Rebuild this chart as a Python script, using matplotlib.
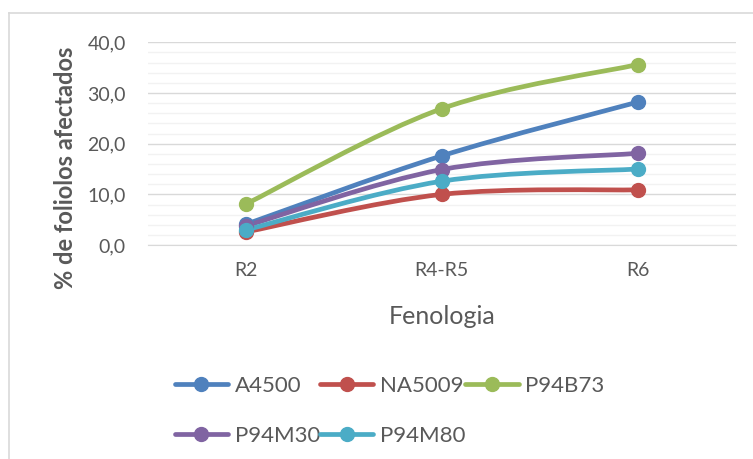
import numpy as np
import matplotlib.pyplot as plt
from matplotlib.path import Path
from matplotlib.patches import PathPatch
from matplotlib.lines import Line2D

plt.rcParams['font.family'] = ['Lato', 'DejaVu Sans']

stages = ['R2', 'R4-R5', 'R6']
a4500 = [4.1, 17.6, 28.2]
na5009 = [2.6, 10.0, 10.9]
p94b73 = [8.1, 26.9, 35.6]
p94m30 = [3.8, 14.9, 18.1]
p94m80 = [3.0, 12.6, 15.0]

series = [('A4500', a4500, '#4F81BD'),
          ('NA5009', na5009, '#C0504D'),
          ('P94B73', p94b73, '#9BBB59'),
          ('P94M30', p94m30, '#8064A2'),
          ('P94M80', p94m80, '#4BACC6')]


def smooth_path(xs, ys):
    # Excel-like smoothed line: cubic bezier segments through the points
    pts = np.column_stack([xs, ys]).astype(float)
    n = len(pts)
    verts = [pts[0]]
    codes = [Path.MOVETO]
    for i in range(n - 1):
        p0 = pts[max(i - 1, 0)]
        p1 = pts[i]
        p2 = pts[i + 1]
        p3 = pts[min(i + 2, n - 1)]
        c1 = p1 + (p2 - p0) / 6.0
        c2 = p2 - (p3 - p1) / 6.0
        verts += [c1, c2, p2]
        codes += [Path.CURVE4] * 3
    return Path(verts, codes)


fig = plt.figure(figsize=(7.53, 4.59), dpi=100)
# chart frame (only top and left edges are visible in the crop)
fig.add_artist(Line2D([0.012, 1.0], [0.972, 0.972], transform=fig.transFigure,
                      color='#D9D9D9', linewidth=1.2))
fig.add_artist(Line2D([0.012, 0.012], [0.0, 0.972], transform=fig.transFigure,
                      color='#D9D9D9', linewidth=1.2))
ax = fig.add_axes([0.1965, 0.466, 0.7805, 0.442])

x = np.arange(len(stages))
for name, vals, col in series:
    ax.add_patch(PathPatch(smooth_path(x, vals), facecolor='none', edgecolor=col,
                           linewidth=3.4, capstyle='round', zorder=3))
    ax.plot(x, vals, linestyle='none', marker='o', markersize=10, color=col, zorder=4)

ax.set_xlim(-0.5, 2.5)
ax.set_ylim(0, 40)
ax.set_yticks(np.arange(0, 41, 10))
ax.set_yticks(np.arange(0, 41, 2), minor=True)
ax.set_yticklabels([f'{v:.1f}'.replace('.', ',') for v in np.arange(0, 41, 10)])
ax.set_xticks(x)
ax.set_xticklabels(stages)
ax.grid(axis='y', which='minor', color='#F2F2F2', linewidth=1)
ax.grid(axis='y', which='major', color='#D9D9D9', linewidth=1)
ax.set_axisbelow(True)
for s in ['top', 'right', 'left']:
    ax.spines[s].set_visible(False)
ax.spines['bottom'].set_color('#D9D9D9')
ax.tick_params(which='both', length=0, labelsize=14, colors='#595959')
ax.tick_params(axis='y', pad=16)
ax.tick_params(axis='x', pad=12)
ax.set_xlabel('Fenologia', fontsize=18, color='#595959', labelpad=19)
ax.set_ylabel('% de foliolos afectados', fontsize=17, fontweight='bold',
              color='#595959')
ax.yaxis.set_label_coords(-0.121, 0.38)

handles = {name: Line2D([], [], color=col, linewidth=3.4, marker='o', markersize=10,
                        solid_capstyle='round')
           for name, vals, col in series}
order = ['A4500', 'P94M30', 'NA5009', 'P94M80', 'P94B73']
fig.legend([handles[k] for k in order], order, ncol=3, frameon=False,
           loc='upper left', bbox_to_anchor=(0.22, 0.20), fontsize=16,
           labelcolor='#595959', handlelength=2.4, handletextpad=0.3,
           columnspacing=0.0, labelspacing=1.35, borderaxespad=0)

fig.savefig('out.png', dpi=100)
